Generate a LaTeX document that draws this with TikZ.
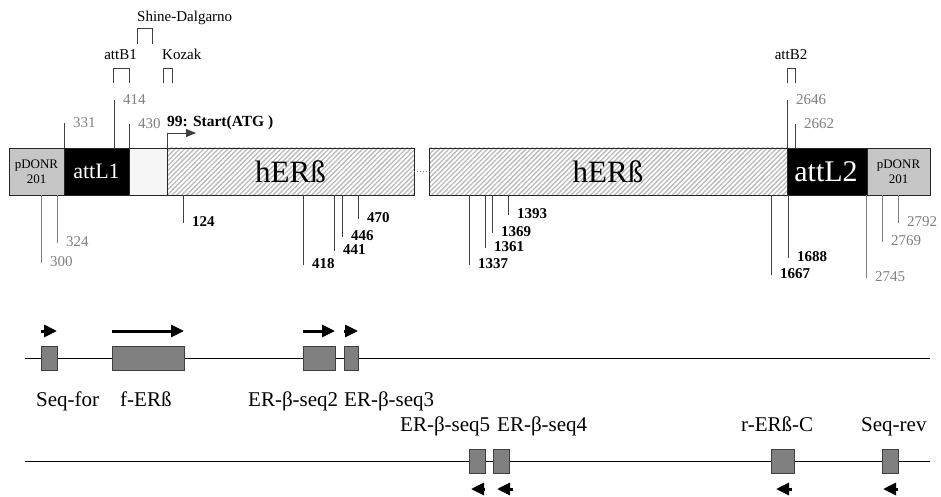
\documentclass[tikz,border=0pt]{standalone}
\usepackage{fontspec}
\setmainfont{Liberation Serif}
\usetikzlibrary{arrows.meta,patterns.meta}

\begin{document}
\begin{tikzpicture}[x=1pt,y=-1pt,>=latex,
  seg/.style={draw=black!85,line width=0.9pt},
  tick/.style={draw=black!75,line width=0.9pt},
  gtick/.style={draw=gray,line width=0.9pt},
  gnum/.style={font=\fontsize{15}{17}\selectfont,text=gray,inner sep=0pt,anchor=west},
  bnum/.style={font=\bfseries\fontsize{15}{17}\selectfont,inner sep=0pt,anchor=west},
  site/.style={font=\fontsize{15}{17}\selectfont,inner sep=0pt},
  plabel/.style={font=\fontsize{21}{24}\selectfont,inner sep=0pt,anchor=base west},
  pbox/.style={draw=black!75,fill=gray,line width=0.9pt},
  fwd/.style={line width=3pt,-{Triangle[length=13pt,width=12pt]}},
  hatch/.style={pattern={Lines[angle=45,distance=3.4pt,line width=1.3pt]},pattern color=gray!55}]
\useasboundingbox (0,0) rectangle (941,497);
\pgfmathsetmacro\barT{148}
\pgfmathsetmacro\barB{195}
\pgfmathsetmacro\barM{171.5}

% the construct
\fill[gray!45] (9,\barT) rectangle (64,\barB);
\fill[black] (64,\barT) rectangle (129,\barB);
\fill[gray!7] (129,\barT) rectangle (167,\barB);
\fill[hatch] (167,\barT) rectangle (414,\barB);
\fill[hatch] (429,\barT) rectangle (787,\barB);
\fill[black] (787,\barT) rectangle (867,\barB);
\fill[gray!45] (867,\barT) rectangle (930,\barB);
\draw[seg] (9,\barT) rectangle (414,\barB);
\draw[seg] (429,\barT) rectangle (930,\barB);
\foreach \x in {64,129,167} \draw[seg] (\x,\barT) -- (\x,\barB);
\foreach \x in {787,867} \draw[seg] (\x,\barT) -- (\x,\barB);
\draw[gray,dotted,line width=0.9pt] (414,\barM) -- (429,\barM);

\node[align=center,font=\fontsize{13}{15}\selectfont,inner sep=0pt] (pdl) at (36.5,\barM) {pDONR\\201};
\node[text=white,font=\fontsize{22}{24}\selectfont] (attl1) at (96.5,\barM) {attL1};
\node[font=\fontsize{31}{34}\selectfont] (her1) at (290.5,\barM) {hERß};
\node[font=\fontsize{31}{34}\selectfont] (her2) at (608,\barM) {hERß};
\node[text=white,font=\fontsize{30}{32}\selectfont] (attl2) at (826,\barM) {attL2};
\node[align=center,font=\fontsize{13}{15}\selectfont,inner sep=0pt] (pdr) at (898.5,\barM) {pDONR\\201};

% sites above the bar
\foreach \x/\y/\t [count=\i] in {64/123/331, 114/100/414, 129/124/430, 787/100/2646, 795/124/2662} {
  \coordinate (up\i) at (\x,\barT);
  \node[gnum] (upl\i) at (\x+9,\y) {\t};
  \draw[tick] (up\i) -- (\x,\y);
}
\coordinate (atg) at (167,\barT);
\coordinate (atgend) at (196,133);
\draw[tick,-{Triangle[length=10pt,width=8pt]}] (atg) |- (atgend);
\node[bnum,anchor=base west,font=\bfseries\fontsize{15.5}{17}\selectfont] (start) at (167,127) {99: Start(ATG )};

% recombination and translation sites
\draw[tick] (113,83) |- (129,68) -- (129,83);
\draw[tick] (137,44) |- (152,28) -- (152,44);
\draw[tick] (163,83) |- (172,68) -- (172,83);
\draw[tick] (787,83) |- (795,68) -- (795,83);
\node[site,anchor=base] (attb1) at (120.5,60) {attB1};
\node[site,anchor=base west] (sd) at (137,22) {Shine-Dalgarno};
\node[site,anchor=base west] (kozak) at (162,60) {Kozak};
\node[site,anchor=base] (attb2) at (791,60) {attB2};

% positions below the bar
\foreach \x/\y/\t [count=\i] in {41/263/300, 57/243/324, 866/278/2745, 882/242/2769, 898/223/2792} {
  \coordinate (gd\i) at (\x,\barB);
  \node[gnum] (gdl\i) at (\x+9,\y-1) {\t};
  \draw[gtick] (gd\i) -- (\x,\y);
}
\foreach \x/\y/\t [count=\i] in {183/223/124, 303/265/418, 334/251/441, 342/237/446, 358/219/470,
    469/265/1337, 485/248/1361, 492/233/1369, 508/215/1393, 771/275/1667, 788/258/1688} {
  \coordinate (bd\i) at (\x,\barB);
  \node[bnum] (bdl\i) at (\x+9,\y-1) {\t};
  \draw[tick] (bd\i) -- (\x,\y);
}

% forward primers
\draw[line width=0.9pt] (25,358) -- (930,358);
\foreach \a/\b [count=\i] in {41/57, 112/184, 303/335, 344/358} {
  \draw[pbox] (\a,346) rectangle (\b,370);
  \coordinate (fs\i) at (\a,331);
  \coordinate (fe\i) at (\b,331);
  \draw[fwd] (fs\i) -- (fe\i);
}
\node[plabel] (seqfor) at (36,406) {Seq-for};
\node[plabel] (fer) at (120,406) {f-ERß};
\node[plabel] (seq2) at (248,406) {ER-β-seq2};
\node[plabel] (seq3) at (344,406) {ER-β-seq3};

% reverse primers
\draw[line width=0.9pt] (25,461) -- (930,461);
\foreach \a/\b in {469/485, 493/509, 771/794, 882/898}
  \draw[pbox] (\a,449) rectangle (\b,473);
\foreach \a/\b [count=\i] in {485/471, 513/497, 792/776, 898/883} {
  \coordinate (rs\i) at (\a,489);
  \coordinate (re\i) at (\b,489);
  \draw[fwd] (rs\i) -- (re\i);
}
\node[plabel] (seq5) at (400,431) {ER-β-seq5};
\node[plabel] (seq4) at (497,431) {ER-β-seq4};
\node[plabel] (rerc) at (741,431) {r-ERß-C};
\node[plabel] (seqrev) at (861,431) {Seq-rev};
\end{tikzpicture}
\end{document}
